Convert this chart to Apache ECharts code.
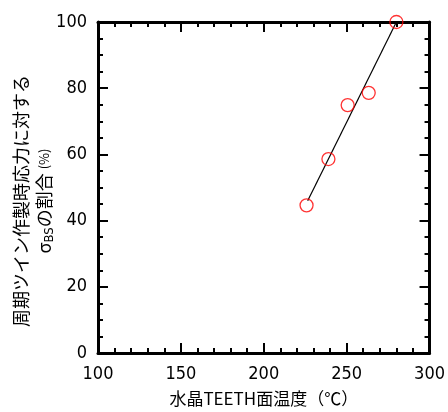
<!DOCTYPE html>
<html>
<head>
<meta charset="utf-8">
<script src="https://cdn.jsdelivr.net/npm/echarts@6/dist/echarts.min.js"></script>
<style>html,body{margin:0;padding:0;background:#fff;}#c{width:448px;height:412px;}</style>
</head>
<body>
<div id="c"></div>
<script>
// data
const tempC = [225.8, 239.0, 250.6, 263.3, 280.0];
const ratio = [44.6, 58.6, 74.9, 78.6, 100.0];
const fitX = [226.5, 280.0];
const fitY = [46.0, 100.0];
const xTicks = [100, 150, 200, 250, 300];
const yTicks = [0, 20, 40, 60, 80, 100];

const numFont = "'Liberation Sans Narrow', 'DejaVu Sans Condensed', 'Liberation Sans', sans-serif";
const jpFont = "'Noto Sans CJK JP', sans-serif";

const chart = echarts.init(document.getElementById('c'));
function axisCommon(show) {
  return {
    type: 'value',
    axisLine: { show: true, onZero: false, lineStyle: { color: '#000', width: 3 } },
    axisTick: { show: true, inside: true, length: 10, lineStyle: { color: '#000', width: 2 } },
    minorTick: { show: true, length: 5, lineStyle: { color: '#000', width: 2 } },
    splitLine: { show: false },
    axisLabel: { show: show, color: '#000', fontFamily: numFont, fontSize: 18 }
  };
}
const xa = Object.assign(axisCommon(true), {
  min: xTicks[0], max: xTicks[xTicks.length - 1], interval: 50, position: 'bottom',
  name: '水晶TEETH面温度（℃）', nameLocation: 'middle', nameGap: 37,
  nameTextStyle: { color: '#000', fontFamily: jpFont, fontSize: 17 }
});
xa.minorTick.splitNumber = 5;
xa.axisLabel.margin = 12;
const xa2 = Object.assign(axisCommon(false), { min: 100, max: 300, interval: 50, position: 'top' });
xa2.minorTick.splitNumber = 5;
const ya = Object.assign(axisCommon(true), {
  min: yTicks[0], max: yTicks[yTicks.length - 1], interval: 20, position: 'left'
});
ya.minorTick.splitNumber = 4;
ya.axisLabel.margin = 11;
const ya2 = Object.assign(axisCommon(false), { min: 0, max: 100, interval: 20, position: 'right' });
ya2.minorTick.splitNumber = 4;

chart.setOption({
  animation: false,
  grid: { left: 98, right: 14, top: 22, bottom: 56, containLabel: false },
  xAxis: [xa, xa2],
  yAxis: [ya, ya2],
  graphic: [{
    type: 'text',
    x: 33, y: 201,
    rotation: Math.PI / 2,
    style: {
      text: '{a|周期ツイン作製時応力に対する}\n{a|σ}{sub|BS}{a|の割合 }{s|(%)}',
      align: 'center',
      verticalAlign: 'middle',
      fill: '#000',
      rich: {
        a: { fontFamily: jpFont, fontSize: 18, lineHeight: 23, fill: '#000' },
        sub: { fontFamily: numFont, fontSize: 13, lineHeight: 23, verticalAlign: 'bottom', padding: [10, 0, 0, 0], fill: '#000' },
        s: { fontFamily: jpFont, fontSize: 13, lineHeight: 23, fill: '#000' }
      }
    }
  }],
  series: [{
    type: 'line',
    data: fitX.map((x, i) => [x, fitY[i]]),
    symbol: 'none',
    lineStyle: { color: '#000', width: 1.2 },
    z: 2
  }, {
    type: 'scatter',
    data: tempC.map((x, i) => [x, ratio[i]]),
    symbol: 'circle',
    symbolSize: 13,
    itemStyle: { color: 'transparent', borderColor: '#ff0000', borderWidth: 1.3 },
    z: 3
  }]
});
</script>
</body>
</html>
